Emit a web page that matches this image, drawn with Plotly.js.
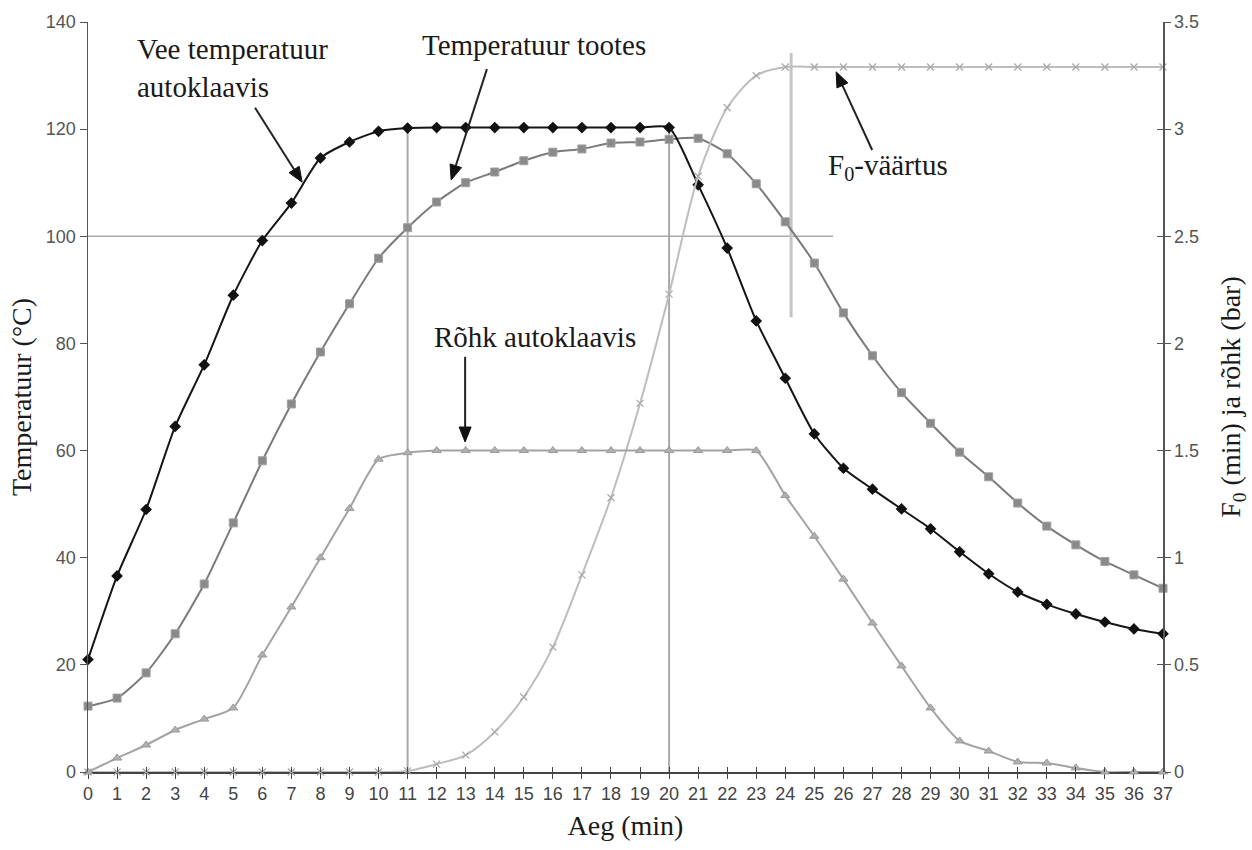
<!DOCTYPE html>
<html>
<head>
<meta charset="utf-8">
<script src="https://cdn.plot.ly/plotly-3.0.1.min.js"></script>
<style>html,body{margin:0;padding:0;background:#fff;}#chart{width:1252px;height:850px;}</style>
</head>
<body>
<div id="chart"></div>
<script>
// Time (min)
const timeMin = [0,1,2,3,4,5,6,7,8,9,10,11,12,13,14,15,16,17,18,19,20,21,22,23,24,25,26,27,28,29,30,31,32,33,34,35,36,37];
// Water temperature in autoclave (°C)
const waterTemp = [21,36.6,49,64.5,76,89,99.2,106.2,114.6,117.6,119.6,120.2,120.3,120.3,120.3,120.3,120.3,120.3,120.3,120.3,120.3,109.6,97.8,84.2,73.5,63.1,56.7,52.8,49.1,45.4,41.1,37,33.6,31.3,29.5,28,26.7,25.8];
// Temperature in product (°C)
const productTemp = [12.3,13.8,18.5,25.8,35.1,46.5,58.1,68.7,78.4,87.4,95.9,101.6,106.4,110,112,114.1,115.7,116.3,117.4,117.6,118.1,118.3,115.4,109.8,102.7,95,85.7,77.7,70.8,65.1,59.7,55.1,50.2,45.9,42.4,39.3,36.8,34.3];
// Pressure in autoclave (bar)
const pressure = [0,0.065,0.126,0.196,0.247,0.299,0.546,0.77,1.0,1.23,1.46,1.49,1.5,1.5,1.5,1.5,1.5,1.5,1.5,1.5,1.5,1.5,1.5,1.5,1.29,1.1,0.9,0.695,0.495,0.299,0.145,0.098,0.047,0.042,0.019,0,0,0];
// F0 value (min)
const f0Value = [0,0,0,0,0,0,0,0,0,0,0,0.005,0.037,0.079,0.187,0.35,0.583,0.92,1.28,1.72,2.23,2.78,3.1,3.25,3.29,3.29,3.29,3.29,3.29,3.29,3.29,3.29,3.29,3.29,3.29,3.29,3.29,3.29];

// Guide lines
const guideVerticalTimes = [11, 20];
const guideHoldTemp = 120.2;
const guideHorizontalTemp = 100;
const guideHorizontalEnd = 25.65;
const guideF0Time = 24.2;
const guideF0Span = [84.9, 134.2];

// Tick labels
const xTicks = timeMin;
const yTicks = [0,20,40,60,80,100,120,140];
const y2Ticks = [0,0.5,1,1.5,2,2.5,3,3.5];

// Callout labels (data coordinates on the temperature axis)
const labelTexts = ['Vee temperatuur<br>autoklaavis', 'Temperatuur tootes', 'Rõhk autoklaavis', 'F<sub>0</sub>-väärtus'];
const labelPos = [[1.62,131.4],[15.35,135.7],[15.39,81.2],[27.54,112.9]];
const arrowTail = [[5.75,124.0],[13.73,131.2],[12.98,77.5],[26.99,116.1]];
const arrowHead = [[7.37,110.1],[12.5,110.5],[12.98,61.6],[25.75,130.7]];

const serif = 'Liberation Serif, Times New Roman, serif';
const sans = 'Liberation Sans, Arial, sans-serif';

const W = 1252, H = 850;
const M = {l: 88, r: 89, t: 22, b: 78};
const xRange = [0, 37], yRange = [0, 140];
// pixels per data unit, used only to shape arrowheads
const sx = (W - M.l - M.r) / (xRange[1] - xRange[0]);
const sy = (H - M.t - M.b) / (yRange[1] - yRange[0]);

const traces = [
  {x: timeMin, y: f0Value, yaxis: 'y2', mode: 'lines+markers', name: 'F0',
   line: {color: '#bdbdbd', width: 2, shape: 'spline', smoothing: 0.8},
   marker: {symbol: 'x-thin', size: 7, line: {color: '#a8a8a8', width: 1.2}}, cliponaxis: false},
  {x: timeMin, y: pressure, yaxis: 'y2', mode: 'lines+markers', name: 'Rõhk',
   line: {color: '#a3a3a3', width: 2, shape: 'spline', smoothing: 0.6},
   marker: {symbol: 'triangle-up', size: 8, color: '#b0b0b0', line: {color: '#999', width: 1}}, cliponaxis: false},
  {x: timeMin, y: productTemp, mode: 'lines+markers', name: 'Toode',
   line: {color: '#7a7a7a', width: 2, shape: 'spline', smoothing: 0.6},
   marker: {symbol: 'square', size: 8, color: '#8a8a8a', line: {color: '#a0a0a0', width: 1}}, cliponaxis: false},
  {x: timeMin, y: waterTemp, mode: 'lines+markers', name: 'Vesi',
   line: {color: '#151515', width: 2, shape: 'spline', smoothing: 0.6},
   marker: {symbol: 'diamond', size: 9, color: '#111'}, cliponaxis: false},
  {x: [0], y: [0], xaxis: 'x2', yaxis: 'y', mode: 'markers', marker: {opacity: 0}, hoverinfo: 'skip'},
  {x: [0], y: [0], xaxis: 'x', yaxis: 'y3', mode: 'markers', marker: {opacity: 0}, hoverinfo: 'skip'}
];

const shapes = [];
guideVerticalTimes.forEach(t => shapes.push({type: 'line', xref: 'x', yref: 'y', x0: t, x1: t, y0: 0, y1: guideHoldTemp, line: {color: '#aaaaaa', width: 2}, layer: 'below'}));
shapes.push({type: 'line', xref: 'x', yref: 'y', x0: 0, x1: guideHorizontalEnd, y0: guideHorizontalTemp, y1: guideHorizontalTemp, line: {color: '#aaaaaa', width: 1.5}, layer: 'below'});
shapes.push({type: 'line', xref: 'x', yref: 'y', x0: guideF0Time, x1: guideF0Time, y0: guideF0Span[0], y1: guideF0Span[1], line: {color: '#c4c4c4', width: 3}, layer: 'below'});

// arrows as line + filled head
arrowTail.forEach((tail, i) => {
  const head = arrowHead[i];
  const dxp = (head[0] - tail[0]) * sx, dyp = (head[1] - tail[1]) * sy;
  const len = Math.hypot(dxp, dyp);
  const ux = dxp / len, uy = dyp / len;
  const hl = 15, hw = 6;
  const bx = head[0] - ux * hl / sx, by = head[1] - uy * hl / sy;
  const px = -uy, py = ux;
  const lx = bx + px * hw / sx, ly = by + py * hw / sy;
  const rx = bx - px * hw / sx, ry = by - py * hw / sy;
  shapes.push({type: 'line', xref: 'x', yref: 'y', x0: tail[0], y0: tail[1], x1: bx, y1: by, line: {color: '#222', width: 2}});
  shapes.push({type: 'path', xref: 'x', yref: 'y', path: `M${head[0]},${head[1]} L${lx},${ly} L${rx},${ry} Z`, fillcolor: '#111', line: {color: '#111', width: 1}});
});

const annotations = labelTexts.map((txt, i) => ({
  x: labelPos[i][0], y: labelPos[i][1], xref: 'x', yref: 'y', text: txt, showarrow: false,
  xanchor: i === 0 ? 'left' : 'center', yanchor: 'middle', align: 'left',
  font: {family: serif, size: 29, color: '#1a1a1a'}
}));

const layout = {
  width: W, height: H,
  margin: M,
  paper_bgcolor: '#fff', plot_bgcolor: '#fff',
  showlegend: false,
  xaxis: {range: xRange, tickmode: 'array', tickvals: xTicks, ticktext: xTicks.map(String),
    showgrid: false, zeroline: false, showline: true, linecolor: '#444', linewidth: 1.5,
    ticks: 'outside', ticklen: 5, tickcolor: '#444', layer: 'below traces',
    tickfont: {family: sans, size: 18, color: '#444'},
    title: {text: 'Aeg (min)', font: {family: serif, size: 28, color: '#1a1a1a'}, standoff: 12}},
  xaxis2: {overlaying: 'x', matches: 'x', anchor: 'y', side: 'bottom', showgrid: false, zeroline: false,
    showline: false, ticks: 'inside', ticklen: 5, tickcolor: '#444', tickmode: 'array', tickvals: xTicks, showticklabels: false},
  yaxis: {range: yRange, tickmode: 'array', tickvals: yTicks, showgrid: false, zeroline: false,
    showline: true, linecolor: '#555', linewidth: 1.5, ticks: 'outside', ticklen: 7, tickcolor: '#555',
    tickfont: {family: sans, size: 18, color: '#555'},
    title: {text: 'Temperatuur (°C)', font: {family: serif, size: 28, color: '#1a1a1a'}, standoff: 6}},
  yaxis2: {range: [0, 3.5], overlaying: 'y', side: 'right', anchor: 'x', tickmode: 'array', tickvals: y2Ticks,
    showgrid: false, zeroline: false, showline: true, linecolor: '#555', linewidth: 1.5,
    ticks: 'outside', ticklen: 6, tickcolor: '#555', tickfont: {family: sans, size: 18, color: '#555'},
    title: {text: 'F<sub>0</sub> (min) ja rõhk (bar)', font: {family: serif, size: 28, color: '#1a1a1a'}, standoff: 22}},
  yaxis3: {range: [0, 3.5], overlaying: 'y', side: 'right', anchor: 'x', tickmode: 'array', tickvals: y2Ticks,
    showgrid: false, zeroline: false, showline: false, ticks: 'inside', ticklen: 6, tickcolor: '#555', showticklabels: false},
  shapes: shapes,
  annotations: annotations
};

Plotly.newPlot('chart', traces, layout, {staticPlot: true, displayModeBar: false});
</script>
</body>
</html>
